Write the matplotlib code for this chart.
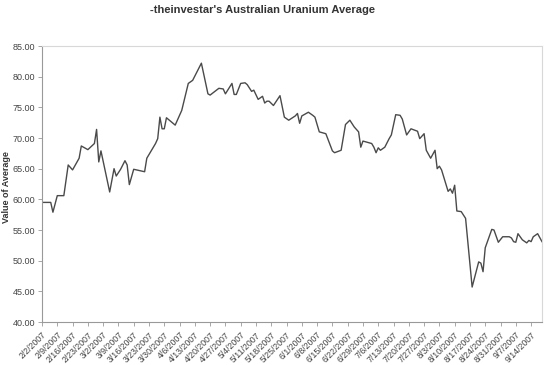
import matplotlib
matplotlib.use("Agg")
import matplotlib.pyplot as plt
import pandas as pd

plt.rcParams['font.family'] = ['Liberation Sans', 'DejaVu Sans']

title = "-theinvestar's Australian Uranium Average"
ylabel = "Value of Average"

dates = [
    "2007-02-02", "2007-02-06", "2007-02-07", "2007-02-09", "2007-02-12", "2007-02-14",
    "2007-02-16", "2007-02-19", "2007-02-20", "2007-02-23", "2007-02-26", "2007-02-27",
    "2007-02-28", "2007-03-01", "2007-03-05", "2007-03-07", "2007-03-08", "2007-03-10",
    "2007-03-12", "2007-03-13", "2007-03-14", "2007-03-16", "2007-03-21", "2007-03-22",
    "2007-03-26", "2007-03-27", "2007-03-28", "2007-03-29", "2007-03-30", "2007-03-31",
    "2007-04-04", "2007-04-07", "2007-04-10", "2007-04-12", "2007-04-16", "2007-04-19",
    "2007-04-20", "2007-04-24", "2007-04-26", "2007-04-27", "2007-04-30", "2007-05-01",
    "2007-05-02", "2007-05-04", "2007-05-06", "2007-05-07", "2007-05-09", "2007-05-10",
    "2007-05-12", "2007-05-14", "2007-05-15", "2007-05-16", "2007-05-17", "2007-05-19",
    "2007-05-22", "2007-05-24", "2007-05-26", "2007-05-29", "2007-05-30", "2007-05-31",
    "2007-06-01", "2007-06-04", "2007-06-06", "2007-06-07", "2007-06-09", "2007-06-12",
    "2007-06-15", "2007-06-16", "2007-06-19", "2007-06-21", "2007-06-23", "2007-06-25",
    "2007-06-27", "2007-06-28", "2007-06-29", "2007-07-03", "2007-07-04", "2007-07-05",
    "2007-07-06", "2007-07-07", "2007-07-09", "2007-07-11", "2007-07-12", "2007-07-14",
    "2007-07-16", "2007-07-17", "2007-07-19", "2007-07-20", "2007-07-21", "2007-07-24",
    "2007-07-25", "2007-07-27", "2007-07-28", "2007-07-30", "2007-08-01", "2007-08-02",
    "2007-08-03", "2007-08-04", "2007-08-07", "2007-08-08", "2007-08-09", "2007-08-10",
    "2007-08-11", "2007-08-13", "2007-08-15", "2007-08-18", "2007-08-21", "2007-08-22",
    "2007-08-23", "2007-08-24", "2007-08-27", "2007-08-28", "2007-08-30", "2007-09-01",
    "2007-09-04", "2007-09-05", "2007-09-06", "2007-09-07", "2007-09-08", "2007-09-10",
    "2007-09-12", "2007-09-13", "2007-09-14", "2007-09-15", "2007-09-17", "2007-09-19",
]

values = [
    59.5, 59.5, 57.9, 60.6, 60.6, 65.6,
    64.8, 66.7, 68.7, 68.1, 69.1, 71.4,
    66.1, 67.9, 61.2, 65.0, 63.8, 64.9,
    66.3, 65.6, 62.4, 64.9, 64.5, 66.7,
    69.1, 69.9, 73.4, 71.5, 71.5, 73.3,
    72.1, 74.5, 78.9, 79.4, 82.2, 77.2,
    77.0, 78.1, 78.0, 77.2, 78.9, 77.1,
    77.1, 78.9, 79.0, 78.7, 77.6, 77.8,
    76.3, 76.8, 75.7, 76.0, 76.0, 75.3,
    76.9, 73.4, 72.9, 73.6, 74.0, 72.4,
    73.6, 74.2, 73.7, 73.4, 71.0, 70.7,
    67.9, 67.6, 68.0, 72.2, 72.9, 71.8,
    71.0, 68.5, 69.5, 69.1, 68.5, 67.6,
    68.4, 68.0, 68.5, 69.9, 70.5, 73.8,
    73.7, 73.1, 70.5, 71.0, 71.5, 71.1,
    69.9, 70.7, 68.0, 66.7, 68.0, 65.0,
    65.4, 64.8, 61.3, 61.7, 61.0, 62.3,
    58.1, 58.0, 56.9, 45.7, 49.8, 49.6,
    48.2, 52.1, 55.1, 55.0, 53.0, 53.9,
    53.9, 53.7, 53.1, 53.0, 54.4, 53.4,
    52.9, 53.3, 53.1, 53.9, 54.4, 53.1,
]

tick_dates = [
    "2/2/2007", "2/9/2007", "2/16/2007", "2/23/2007", "3/2/2007", "3/9/2007",
    "3/16/2007", "3/23/2007", "3/30/2007", "4/6/2007", "4/13/2007", "4/20/2007",
    "4/27/2007", "5/4/2007", "5/11/2007", "5/18/2007", "5/25/2007", "6/1/2007",
    "6/8/2007", "6/15/2007", "6/22/2007", "6/29/2007", "7/6/2007", "7/13/2007",
    "7/20/2007", "7/27/2007", "8/3/2007", "8/10/2007", "8/17/2007", "8/24/2007",
    "8/31/2007", "9/7/2007", "9/14/2007",
]

y_ticks = [40, 45, 50, 55, 60, 65, 70, 75, 80, 85]

x = pd.to_datetime(dates)
ticks = pd.to_datetime(tick_dates, format="%m/%d/%Y")

fig = plt.figure(figsize=(5.48, 3.65), dpi=100)
ax = fig.add_axes([42/548, 1-322/365, 500/548, 276/365])

ax.plot(x, values, color="#4a4a4a", linewidth=1.0)

ax.set_xlim(pd.Timestamp("2007-02-02"), pd.Timestamp("2007-09-19"))
ax.set_ylim(40, 85)
ax.set_yticks(y_ticks)
ax.set_yticklabels([f"{v:.2f}" for v in y_ticks])
ax.set_xticks(ticks)
ax.set_xticklabels(tick_dates, rotation=45, ha="right", rotation_mode="anchor")

ax.tick_params(axis="y", labelsize=6.5, length=3, width=0.6, pad=2, color="#999999")
ax.tick_params(axis="x", labelsize=6.3, length=3, width=0.6, pad=3, color="#999999")
for lab in ax.get_xticklabels() + ax.get_yticklabels():
    lab.set_color("#444444")

for side in ["left", "bottom"]:
    ax.spines[side].set_color("#999999")
    ax.spines[side].set_linewidth(0.8)
for side in ["top", "right"]:
    ax.spines[side].set_color("#d8d8d8")
    ax.spines[side].set_linewidth(0.8)

ax.set_ylabel(ylabel, fontsize=6.5, fontweight="bold", color="#333333")
ax.yaxis.set_label_coords(-0.062, 0.49)
fig.text(262/548, 1-10/365, title, ha="center", va="center", fontsize=8,
         fontweight="bold", color="#333333")

fig.savefig("out.png", dpi=100)
